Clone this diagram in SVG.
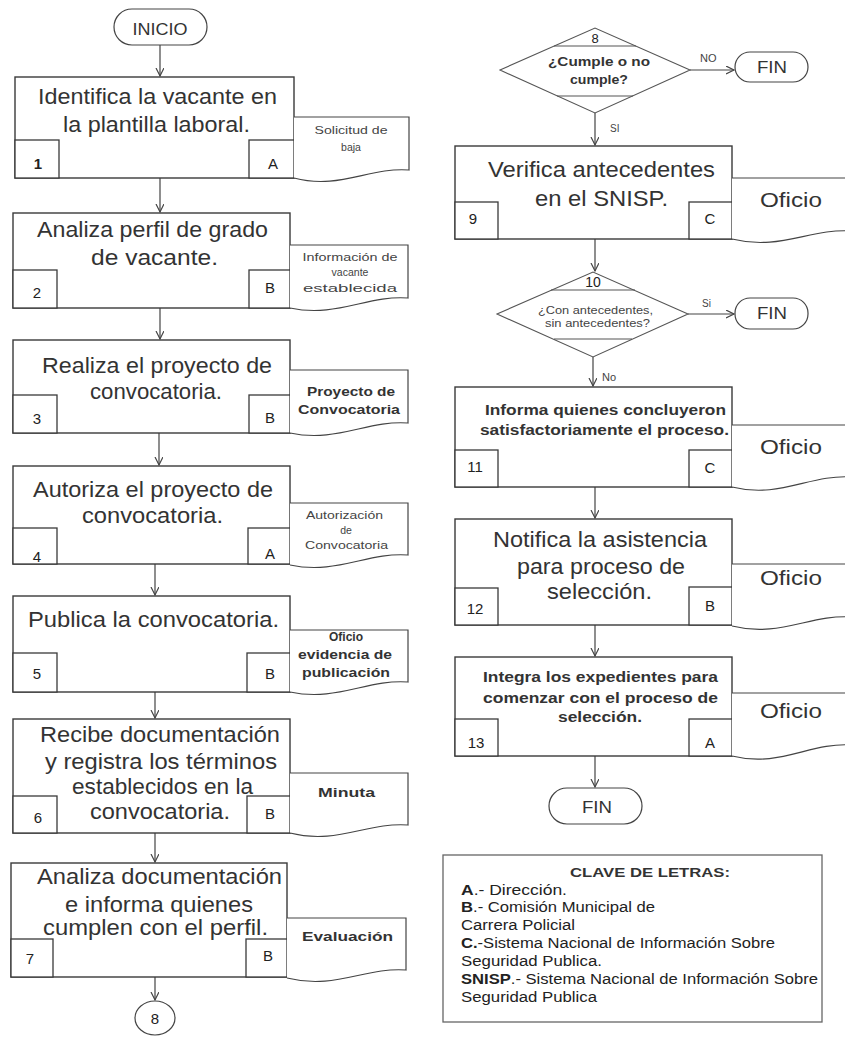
<svg xmlns="http://www.w3.org/2000/svg" width="845" height="1040" viewBox="0 0 845 1040">
<style>
.bg{fill:#fff}
.box{fill:#fff;stroke:#3a3a3a;stroke-width:1.4}
.sub{fill:#fff;stroke:#3a3a3a;stroke-width:1.3}
.doc{fill:#fff;stroke:#444;stroke-width:1.2}
.dia{fill:#fff;stroke:#555;stroke-width:1.1}
.ln{stroke:#555;stroke-width:1.1;fill:none}
.term{fill:#fff;stroke:#444;stroke-width:1.2}
.con{stroke:#444;stroke-width:1.2;fill:none;marker-end:url(#ah)}
text{font-family:"Liberation Sans",Arial,Helvetica,sans-serif;fill:#333}
.big{font-size:22px;text-anchor:middle}
.num{font-size:15px;text-anchor:middle;fill:#222}
.sm{font-size:10.5px;text-anchor:middle;fill:#444}
.smb{font-size:12px;text-anchor:middle;font-weight:bold;fill:#333}
.mb{font-size:14.5px;text-anchor:middle;font-weight:bold;fill:#333}
.of{font-size:20px;text-anchor:middle}
.tt{font-size:16px;text-anchor:middle;fill:#333}
.lab{font-size:11px;fill:#444}
.leg{font-size:14px;fill:#222}
</style>
<defs>
<marker id="ah" markerWidth="10" markerHeight="10" refX="8" refY="4" orient="auto" markerUnits="userSpaceOnUse">
<path d="M0,0 L8,4 L0,8" fill="none" stroke="#444" stroke-width="1.2"/>
</marker>
</defs>
<rect class="bg" x="0" y="0" width="845" height="1040"/>

<g id="connectors">
<line class="con" x1="160" y1="45" x2="160" y2="76"/>
<line class="con" x1="160" y1="178" x2="160" y2="212"/>
<line class="con" x1="160" y1="308" x2="160" y2="339"/>
<line class="con" x1="159" y1="433" x2="159" y2="465"/>
<line class="con" x1="155" y1="564" x2="155" y2="595"/>
<line class="con" x1="155" y1="692" x2="155" y2="718"/>
<line class="con" x1="155" y1="833" x2="155" y2="862"/>
<line class="con" x1="155" y1="977" x2="155" y2="1000"/>
<line class="con" x1="690" y1="70" x2="734" y2="70"/>
<line class="con" x1="595" y1="113" x2="595" y2="145"/>
<line class="con" x1="595" y1="239" x2="595" y2="271"/>
<line class="con" x1="688" y1="314" x2="734" y2="314"/>
<line class="con" x1="593" y1="357" x2="593" y2="386"/>
<line class="con" x1="595" y1="487" x2="595" y2="518"/>
<line class="con" x1="595" y1="625" x2="595" y2="656"/>
<line class="con" x1="595" y1="756" x2="595" y2="787"/>
<text class="lab" x="700" y="62">NO</text>
<text class="lab" x="610" y="132" style="font-size:10px">SI</text>
<text class="lab" x="702" y="307" style="font-size:10px">Si</text>
<text class="lab" x="602" y="381">No</text>
</g>

<g id="inicio">
<rect class="term" x="114" y="9" width="93" height="36" rx="18"/>
<text class="tt" x="160" y="35" textLength="55" lengthAdjust="spacingAndGlyphs">INICIO</text>
</g>

<g id="step1">
<rect class="box" x="15" y="77" width="279" height="101"/>
<rect class="sub" x="15" y="140" width="44" height="38"/>
<rect class="sub" x="249" y="140" width="45" height="38"/>
<text class="big" x="157.5" y="104" textLength="239" lengthAdjust="spacingAndGlyphs">Identifica la vacante en</text>
<text class="big" x="156.5" y="132" textLength="187" lengthAdjust="spacingAndGlyphs">la plantilla laboral.</text>
<text class="num" x="38" y="169" style="font-weight:bold">1</text>
<text class="num" x="273" y="169">A</text>
</g>
<g id="doc1">
<path class="doc" d="M294,117 H409 V170 C369,167 339,190 294,178"/>
<text class="sm" x="351" y="134" textLength="73" lengthAdjust="spacingAndGlyphs">Solicitud de</text>
<text class="sm" x="351" y="151">baja</text>
</g>

<g id="step2">
<rect class="box" x="13" y="213" width="277" height="95"/>
<rect class="sub" x="13" y="270" width="44" height="38"/>
<rect class="sub" x="249" y="270" width="41" height="38"/>
<text class="big" x="152.5" y="237" textLength="231" lengthAdjust="spacingAndGlyphs">Analiza perfil de grado</text>
<text class="big" x="154.5" y="265" textLength="127" lengthAdjust="spacingAndGlyphs">de vacante.</text>
<text class="num" x="37" y="298">2</text>
<text class="num" x="270" y="293">B</text>
</g>
<g id="doc2">
<path class="doc" d="M290,245 H408 V298 C367,295 337,318 290,308"/>
<text class="sm" x="350" y="261" textLength="95" lengthAdjust="spacingAndGlyphs">Información de</text>
<text class="sm" x="350" y="276">vacante</text>
<text class="sm" x="350" y="292" textLength="94" lengthAdjust="spacingAndGlyphs">establecida</text>
</g>

<g id="step3">
<rect class="box" x="13" y="340" width="277" height="93"/>
<rect class="sub" x="13" y="395" width="44" height="38"/>
<rect class="sub" x="249" y="395" width="41" height="38"/>
<text class="big" x="157" y="373" textLength="230" lengthAdjust="spacingAndGlyphs">Realiza el proyecto de</text>
<text class="big" x="156" y="399" textLength="132" lengthAdjust="spacingAndGlyphs">convocatoria.</text>
<text class="num" x="37" y="424">3</text>
<text class="num" x="270" y="423">B</text>
</g>
<g id="doc3">
<path class="doc" d="M290,370 H408 V423 C367,420 337,443 290,433"/>
<text class="smb" x="351" y="396" textLength="88" lengthAdjust="spacingAndGlyphs">Proyecto de</text>
<text class="smb" x="349" y="414" textLength="102" lengthAdjust="spacingAndGlyphs">Convocatoria</text>
</g>

<g id="step4">
<rect class="box" x="13" y="466" width="277" height="98"/>
<rect class="sub" x="13" y="528" width="44" height="36"/>
<rect class="sub" x="248" y="528" width="42" height="36"/>
<text class="big" x="153" y="497" textLength="240" lengthAdjust="spacingAndGlyphs">Autoriza el proyecto de</text>
<text class="big" x="152.5" y="523" textLength="141" lengthAdjust="spacingAndGlyphs">convocatoria.</text>
<text class="num" x="37" y="562">4</text>
<text class="num" x="270" y="559">A</text>
</g>
<g id="doc4">
<path class="doc" d="M290,503 H408 V555 C367,552 337,575 290,565"/>
<text class="sm" x="344.5" y="519" textLength="77" lengthAdjust="spacingAndGlyphs">Autorización</text>
<text class="sm" x="346" y="534">de</text>
<text class="sm" x="346.5" y="549" textLength="83" lengthAdjust="spacingAndGlyphs">Convocatoria</text>
</g>

<g id="step5">
<rect class="box" x="13" y="596" width="277" height="96"/>
<rect class="sub" x="13" y="653" width="44" height="39"/>
<rect class="sub" x="247" y="653" width="43" height="39"/>
<text class="big" x="153.5" y="627" textLength="251" lengthAdjust="spacingAndGlyphs">Publica la convocatoria.</text>
<text class="num" x="37" y="679">5</text>
<text class="num" x="270" y="679">B</text>
</g>
<g id="doc5">
<path class="doc" d="M290,630 H408 V682 C367,679 337,702 290,692"/>
<text class="smb" x="346" y="641">Oficio</text>
<text class="smb" x="345" y="659" textLength="94" lengthAdjust="spacingAndGlyphs">evidencia de</text>
<text class="smb" x="346" y="677" textLength="88" lengthAdjust="spacingAndGlyphs">publicación</text>
</g>

<g id="step6">
<rect class="box" x="13" y="719" width="277" height="114"/>
<rect class="sub" x="13" y="796" width="44" height="37"/>
<rect class="sub" x="247" y="796" width="43" height="37"/>
<text class="big" x="160" y="742" textLength="240" lengthAdjust="spacingAndGlyphs">Recibe documentación</text>
<text class="big" x="161" y="769" textLength="232" lengthAdjust="spacingAndGlyphs">y registra los términos</text>
<text class="big" x="162.5" y="794" textLength="181" lengthAdjust="spacingAndGlyphs">establecidos en la</text>
<text class="big" x="160" y="819" textLength="140" lengthAdjust="spacingAndGlyphs">convocatoria.</text>
<text class="num" x="38" y="823">6</text>
<text class="num" x="270" y="819">B</text>
</g>
<g id="doc6">
<path class="doc" d="M290,773 H408 V825 C367,822 337,845 290,833"/>
<text class="smb" x="346.5" y="797" style="font-size:13px" textLength="57" lengthAdjust="spacingAndGlyphs">Minuta</text>
</g>

<g id="step7">
<rect class="box" x="11" y="863" width="276" height="114"/>
<rect class="sub" x="11" y="939" width="42" height="38"/>
<rect class="sub" x="246" y="939" width="41" height="38"/>
<text class="big" x="159.5" y="884" textLength="245" lengthAdjust="spacingAndGlyphs">Analiza documentación</text>
<text class="big" x="159" y="912" textLength="188" lengthAdjust="spacingAndGlyphs">e informa quienes</text>
<text class="big" x="155.5" y="935" textLength="225" lengthAdjust="spacingAndGlyphs">cumplen con el perfil.</text>
<text class="num" x="30" y="964">7</text>
<text class="num" x="268" y="961">B</text>
</g>
<g id="doc7">
<path class="doc" d="M287,918 H406 V970 C365,967 335,990 287,978"/>
<text class="smb" x="347.5" y="941" style="font-size:13px" textLength="91" lengthAdjust="spacingAndGlyphs">Evaluación</text>
</g>

<g id="conn8">
<ellipse class="term" cx="155" cy="1018" rx="20" ry="17"/>
<text class="num" x="155" y="1024">8</text>
</g>

<g id="dec8">
<polygon class="dia" points="500,70 595,28 690,70 595,113"/>
<line class="ln" x1="554" y1="46" x2="636" y2="46"/>
<line class="ln" x1="557" y1="96" x2="633" y2="96"/>
<text class="num" x="595" y="43" style="font-size:13px">8</text>
<text class="mb" x="599" y="66" style="font-size:13px" textLength="102" lengthAdjust="spacingAndGlyphs">¿Cumple o no</text>
<text class="mb" x="599" y="84" style="font-size:13px" textLength="58" lengthAdjust="spacingAndGlyphs">cumple?</text>
</g>
<g id="fin1">
<rect class="term" x="735" y="52" width="73" height="30" rx="15"/>
<text class="tt" x="772" y="73" textLength="30" lengthAdjust="spacingAndGlyphs">FIN</text>
</g>

<g id="step9">
<rect class="box" x="455" y="146" width="277" height="93"/>
<rect class="sub" x="455" y="202" width="43" height="37"/>
<rect class="sub" x="689" y="202" width="43" height="37"/>
<text class="big" x="601.5" y="177" textLength="227" lengthAdjust="spacingAndGlyphs">Verifica antecedentes</text>
<text class="big" x="601.5" y="206" textLength="133" lengthAdjust="spacingAndGlyphs">en el SNISP.</text>
<text class="num" x="473" y="224">9</text>
<text class="num" x="710" y="224">C</text>
</g>
<g id="doc9">
<path class="doc" d="M732,178 H852 V231 C810,228 780,251 732,239"/>
<text class="of" x="791" y="207" textLength="62" lengthAdjust="spacingAndGlyphs">Oficio</text>
</g>

<g id="dec10">
<polygon class="dia" points="497,314 593,272 688,314 593,357"/>
<line class="ln" x1="551" y1="290" x2="635" y2="290"/>
<line class="ln" x1="554" y1="339" x2="632" y2="339"/>
<text class="num" x="593" y="287" style="font-size:14px">10</text>
<text class="sm" x="595.5" y="314" textLength="115" lengthAdjust="spacingAndGlyphs">¿Con antecedentes,</text>
<text class="sm" x="597.5" y="327" textLength="105" lengthAdjust="spacingAndGlyphs">sin antecedentes?</text>
</g>
<g id="fin2">
<rect class="term" x="735" y="298" width="73" height="31" rx="15"/>
<text class="tt" x="772" y="319" textLength="30" lengthAdjust="spacingAndGlyphs">FIN</text>
</g>

<g id="step11">
<rect class="box" x="455" y="387" width="277" height="100"/>
<rect class="sub" x="455" y="450" width="43" height="37"/>
<rect class="sub" x="689" y="450" width="43" height="37"/>
<text class="mb" x="605.5" y="415" textLength="241" lengthAdjust="spacingAndGlyphs">Informa quienes concluyeron</text>
<text class="mb" x="604.5" y="435" textLength="249" lengthAdjust="spacingAndGlyphs">satisfactoriamente el proceso.</text>
<text class="num" x="475" y="472">11</text>
<text class="num" x="710" y="473">C</text>
</g>
<g id="doc11">
<path class="doc" d="M732,425 H852 V477 C810,474 780,499 732,487"/>
<text class="of" x="791" y="454" textLength="62" lengthAdjust="spacingAndGlyphs">Oficio</text>
</g>

<g id="step12">
<rect class="box" x="455" y="519" width="277" height="106"/>
<rect class="sub" x="455" y="588" width="43" height="37"/>
<rect class="sub" x="689" y="587" width="43" height="38"/>
<text class="big" x="600" y="547" textLength="214" lengthAdjust="spacingAndGlyphs">Notifica la asistencia</text>
<text class="big" x="601" y="574" textLength="168" lengthAdjust="spacingAndGlyphs">para proceso de</text>
<text class="big" x="599.5" y="599" textLength="105" lengthAdjust="spacingAndGlyphs">selección.</text>
<text class="num" x="475" y="614">12</text>
<text class="num" x="710" y="611">B</text>
</g>
<g id="doc12">
<path class="doc" d="M732,564 H852 V617 C810,614 780,638 732,626"/>
<text class="of" x="791" y="585" textLength="62" lengthAdjust="spacingAndGlyphs">Oficio</text>
</g>

<g id="step13">
<rect class="box" x="455" y="657" width="277" height="99"/>
<rect class="sub" x="455" y="719" width="43" height="37"/>
<rect class="sub" x="689" y="719" width="43" height="37"/>
<text class="mb" x="600.5" y="682" textLength="235" lengthAdjust="spacingAndGlyphs">Integra los expedientes para</text>
<text class="mb" x="600.5" y="703" textLength="235" lengthAdjust="spacingAndGlyphs">comenzar con el proceso de</text>
<text class="mb" x="600" y="722" textLength="84" lengthAdjust="spacingAndGlyphs">selección.</text>
<text class="num" x="476" y="748">13</text>
<text class="num" x="710" y="748">A</text>
</g>
<g id="doc13">
<path class="doc" d="M732,693 H852 V745 C810,742 780,768 732,756"/>
<text class="of" x="791" y="718" textLength="62" lengthAdjust="spacingAndGlyphs">Oficio</text>
</g>

<g id="fin3">
<rect class="term" x="549" y="788" width="93" height="36" rx="18"/>
<text class="tt" x="597" y="813" textLength="30" lengthAdjust="spacingAndGlyphs">FIN</text>
</g>

<g id="legend">
<rect x="443" y="855" width="379" height="167" fill="#fff" stroke="#666" stroke-width="1.3"/>
<text x="650" y="877" text-anchor="middle" font-weight="bold" font-size="13" fill="#222" textLength="160" lengthAdjust="spacingAndGlyphs">CLAVE DE LETRAS:</text>
<text class="leg" x="461" y="895" textLength="106" lengthAdjust="spacingAndGlyphs"><tspan font-weight="bold">A</tspan>.-  Dirección.</text>
<text class="leg" x="461" y="912" textLength="194" lengthAdjust="spacingAndGlyphs"><tspan font-weight="bold">B</tspan>.- Comisión Municipal de</text>
<text class="leg" x="461" y="930" textLength="114" lengthAdjust="spacingAndGlyphs">Carrera Policial</text>
<text class="leg" x="461" y="948" textLength="314" lengthAdjust="spacingAndGlyphs"><tspan font-weight="bold">C.</tspan>-Sistema Nacional de Información Sobre</text>
<text class="leg" x="461" y="966" textLength="141" lengthAdjust="spacingAndGlyphs">Seguridad Publica.</text>
<text class="leg" x="461" y="984" textLength="357" lengthAdjust="spacingAndGlyphs"><tspan font-weight="bold">SNISP</tspan>.- Sistema Nacional de Información Sobre</text>
<text class="leg" x="461" y="1002" textLength="136" lengthAdjust="spacingAndGlyphs">Seguridad Publica</text>
</g>
</svg>
